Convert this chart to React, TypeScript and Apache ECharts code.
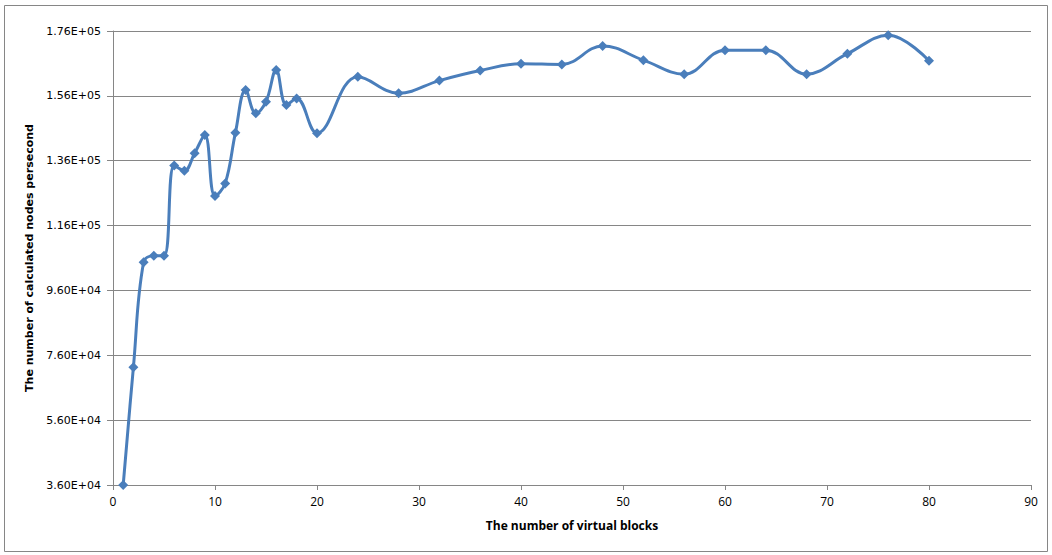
import React, { useEffect, useRef } from "react";
import * as echarts from "echarts";

const xValues = [1, 2, 3, 4, 5, 6, 7, 8, 9, 10, 11, 12, 13, 14, 15, 16, 17, 18, 20, 24, 28, 32, 36, 40, 44, 48, 52, 56, 60, 64, 68, 72, 76, 80];
const nodesPerSecond = [
  36000, 72300, 104700, 106700, 106700, 134500, 132900, 138300, 143900, 125100,
  129000, 144600, 157800, 150600, 154200, 164000, 153200, 155200, 144500, 161900,
  156800, 160700, 163800, 165900, 165700, 171400, 167000, 162700, 170100, 170100,
  162700, 169000, 174700, 166800,
];

const xTitle = "The number of virtual blocks";
const yTitle = "The number of calculated nodes persecond";

function sci(v: number): string {
  if (v === 0) return "0.00E+00";
  const e = Math.floor(Math.log10(Math.abs(v)) + 1e-9);
  const m = v / Math.pow(10, e);
  const es = (e < 0 ? "-" : "+") + String(Math.abs(e)).padStart(2, "0");
  return m.toFixed(2) + "E" + es;
}

export default function App() {
  const ref = useRef<HTMLDivElement>(null);
  useEffect(() => {
    document.body.style.margin = "0";
    const chart = echarts.init(ref.current!, undefined, { renderer: "svg" });
    chart.setOption({
      animation: false,
      backgroundColor: "#ffffff",
      grid: { left: 113, right: 21, top: 31, bottom: 70 },
      graphic: [
        {
          type: "rect",
          shape: { x: 4.5, y: 5.5, width: 1043, height: 546 },
          style: { fill: "none", stroke: "#868686", lineWidth: 1 },
          z: -1,
        },
      ],
      xAxis: {
        type: "value",
        min: 0,
        max: 90,
        interval: 10,
        name: xTitle,
        nameLocation: "middle",
        nameGap: 34,
        nameTextStyle: { fontFamily: "'Liberation Sans Narrow', 'Open Sans', sans-serif", fontWeight: "bold", fontSize: 12, color: "#000" },
        axisLine: { show: true, onZero: false, lineStyle: { color: "#868686", width: 1 } },
        axisTick: { show: true, inside: false, length: 5, lineStyle: { color: "#868686" } },
        axisLabel: { fontFamily: "'Liberation Sans Narrow', 'Open Sans', sans-serif", fontSize: 12, color: "#000", margin: 10 },
        splitLine: { show: false },
      },
      yAxis: {
        type: "value",
        min: 36000,
        max: 176000,
        interval: 20000,
        name: yTitle,
        nameLocation: "middle",
        nameGap: 78,
        nameRotate: 90,
        nameTextStyle: { fontFamily: "'DejaVu Sans', Verdana, sans-serif", fontWeight: "bold", fontSize: 11, color: "#000" },
        axisLine: { show: true, lineStyle: { color: "#868686", width: 1 } },
        axisTick: { show: true, inside: false, length: 6, lineStyle: { color: "#868686" } },
        axisLabel: { formatter: (v: number) => sci(v), fontFamily: "'DejaVu Sans', Verdana, sans-serif", fontSize: 11, color: "#000", margin: 12 },
        splitLine: { show: true, lineStyle: { color: "#868686", width: 1 } },
      },
      series: [
        {
          type: "line",
          data: xValues.map((x, i) => [x, nodesPerSecond[i]]),
          smooth: 0.4,
          symbol: "diamond",
          symbolSize: 10,
          lineStyle: { color: "#4A7EBB", width: 3 },
          itemStyle: { color: "#4A7EBB" },
        },
      ],
    });
    return () => chart.dispose();
  }, []);
  return <div ref={ref} style={{ width: 1052, height: 555 }} />;
}
